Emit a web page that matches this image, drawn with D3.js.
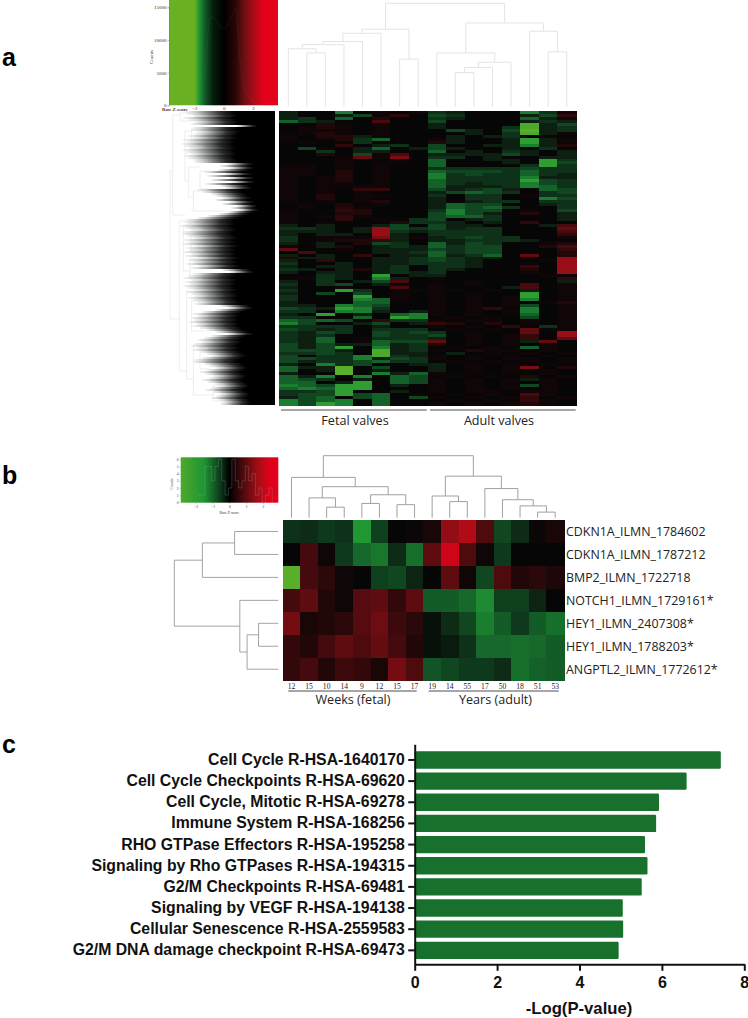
<!DOCTYPE html>
<html>
<head>
<meta charset="utf-8">
<title>Valve heatmaps</title>
<style>
  html, body { margin: 0; padding: 0; background: #fff; }
  svg { display: block; }
</style>
</head>
<body>
<script src="https://cdn.jsdelivr.net/npm/d3@7"></script>
<script>
var width = 748, height = 1018;

// panel a: heatmap levels, one string per gene row. '.' = 0, digits = red, letters = green
var heatA = [
"a..e.1.1ba...eb1","a..ac13.cb...ac3","ab.d.2..ba...da1","dba..4..c....aba",
"..21.1..a....gac",".121.1..a...bgab",".111.1...ca.chab",".121.1....a.bga1",
"1.22a1...a.ab.1.","1.12bd..1a..afa1",".1.1b1..2a..afa1","...3.ab.c..aaea2",
".c1.ad.aca..a.b.","..b.aa..d.a.ba.a","..2.c14.aaaaca.a","...1516.bb.a..aa",
"...1..1.d..aa.fb","...1.11.d...a.fc","11.1.1..d....bfb","11.1.1..bbbbbcbb",
"11.2.1..dcccbdbb","11.2.1..ebcbbdba","1.12.1..ebbbbeaa","1.12.1..dbbbbfcb",
"1.11.1..dbabbecb","1.1111..daaabedb","1.1.33..cabca.dc","1.1.1...acdcb.bc",
"1.2.11..b.bb.1bb","1.2.1...a.bb..ec","1.1.12..a.abb.bb",".1.2.1..adcc..ab",
".1.21...adcdb..b","1..32...becc.1.c","1..22...ceca.2.a","1.131...cddb...a",
"1..3.1.bc.ab...a","1.1...2bba.a.3..","a.a..ac.caa...a4","bba.a7cbcabb...5",
"aaa.a7babbbb...4","a.aa.7a.bbbb...3","b.1116a1abcbb..1","b.1223a.aabbba..",
"a.a.2cb.dacb..12","1.a2.abadbcc..24","5..1.aaacbcc...3",".4...aabdbcc...2",
"a.a.3.aadabd.5.2","2aa..aabcbaa.1.7","a.3..aabcba...17","b..a.aabbba..1.7",
"a.aa.ab.bba..3.7","ba.a2ab.ba...2.7","a.aa.abab....1.7","..ba.f.aa.....1.",
"11ba.ea.1......3","a.b.ac4...1....a","b.bc.a1.1.1..4.1","a..1..4.1...a4.1",
"b..fb.1111.1.a.1","a.c.c.1.1.1..f.1","b...f.1.1.1.1f.1","b...ed1.1.1.1e.1",
"a...dd..1.1.1.12","aa.edc..1.1.1c.1","cbafeb..1.13.e.1","bb.eea.a1.1.1e.1",
"a.f.a.de1.1.1d.1","bb..d.fe.1.1.c.1","dcdc.3bb1.11.1.1","ec..ac.a32.2.1.1",
"bbbb.a..1.1.3.b1","cbab.bbb.1.1.511","bacb.cbcb.1..5.7","bab..cbbc.1.13.7",
"bad.1bbba.1.13.5","bad.1dcc5.1.1a5.","cacaadab2.1.1.1.","cacf.eab.1.1.d1.",
"ccca.gab1.211.1.","bbcb.gaa.a.1.1.1","c.bbegba1.1.1.1.","ccbbeacb1.1.11.1",
"cabbcdbb.1.1.1.1","a.ebc..aa.1.1.1.","daah.c..a.1.16.2","d.ah.a..a.1.1.1.",
"a..h.ead1.1.1.1.","dae.e.dc.1.1.2.1","dcb.a.dc1.1.1a1.","dd.af.dc1.1.1.1.",
"edcff.a.1.1.1c1.","dedff...1.1.1.1.","bbcf..a.1.11.11.","bccfcd.1.1.1.41.",
"acd.cd.c1.1.13.1","ecde.d...1.1.31.","ecfe.d..1.1.121."
];
var greenLevels = "abcdefghi", greenZ = [-0.25, -0.5, -0.8, -1.2, -1.6, -2.2, -2.6, -2.8, -2.8];
var redLevels = "123456789", redZ = [0.12, 0.3, 0.5, 0.75, 1.05, 1.4, 1.8, 2.2, 2.6];

// panel a: how far the gene tree reaches left, per band of leaves
var leafDepthA = [98,96,90,100,94,88,92,42,90,92,85,88,95,90,100,96,102,98,94,100,97,92,99,95,90,88,
  52,60,50,62,78,55,74,50,70,48,76,60,55,85,80,70,65,58,66,50,58,42,48,40,52,62,74,85,98,
  100,96,104,98,92,100,102,96,90,99,95,101,88,97,94,100,92,98,86,95,90,97,84,92,58,50,
  90,95,100,92,98,94,100,96,90,97,92,88,95,90,85,88,60,52,66,80,90,85,92,88,94,86,90,82,75,65,52,70,
  78,85,80,88,92,85,90,82,75,70,80,88,90,78,72,66,74,82,76,68,72,80,74,66,62,70,76,68,60,64,70,62,58,60];

// gene tree branches: [depth, leaf band top, leaf band bottom, depth at top, depth at bottom]
var geneBranches = [
  [114.5,30,104,111.6,104.4],[111.6,2,52,103.6,98.2],[104.4,55,130,100,96.4],[103.6,1,5,92.7,89.1],
  [98.2,10,35,90.9,94.5],[90.9,9,18,80,78.2],[94.5,28,43,81.8,89.1],[81.8,30,39,70.9,72.7],
  [89.1,40,50,74.5,52.7],[100,57,80,90.9,92.7],[96.4,90,134,90.9,89.1],[90.9,59,70,80,78.2],
  [92.7,74,84,81.8,80],[90.9,95,110,81.8,76.4],[89.1,117,142,81.8,67.3],[81.8,119,129,72.7,70.9],
  [67.3,137,145,54.5,52.7]
];

// dendrograms as nested [height, left, right], leaves are column or row numbers
var treeTopA = [100,
  [75, [71, [63, [60, [56, 0, [52, 1, 2]], 3], 4], 5], [46, 6, 7]],
  [81, [52, 8, [43, [38, [33, 9, 10], 11], 12]], [73, 13, [53, 14, 15]]]];
var treeTopB = [100,
  [65, 0, [50, [32, 1, [17, 2, 3]], [37, [23, 4, 5], [21, 6, 7]]]],
  [67, [35, 8, [26, 9, 10]], [47, 11, [29, 12, [19, 13, [9, 14, 15]]]]]];
var treeLeftB = [100, [73, [42, 0, 1], 2], [37, 3, [30, [19, 4, 5], 6]]];

// panel a colour key
var keyStopsA = [[-3.74,"#6ab023"],[-1.98,"#6ab023"],[-1.64,"#1c9333"],[-1.3,"#145a28"],[-0.7,"#051a0b"],[0,"#000000"],
  [0.8,"#2a0608"],[1.4,"#6b0f13"],[2,"#a50c18"],[2.7,"#e2001a"],[3.71,"#e2001a"]];
var keyTraceZA = [-1.3,-1.07,-0.95,-0.61,-0.27,0.07,0.41,0.82,0.91,1.09,1.43,2,2.68];
var keyTraceCA = [3400,11000,13500,13300,12000,11700,13000,14800,14000,7400,2300,500,0];

// panel b colour key
var keyStopsB = [[-2.89,"#4fa82a"],[-1.5,"#1f9433"],[-0.6,"#0f3f1c"],[0,"#000000"],[0.8,"#4a0a0d"],[1.7,"#a30d16"],[2.4,"#e2001a"],[2.91,"#e2001a"]];
var keyHistStartB = -1.85, keyHistStepB = 0.2;
var keyHistB = [1,1,5,5,3,5,6,3,1,2,6,3,2,3,5,3,4,1,2,0,1,2,0];

// panel b heatmap
var genesB = ["CDKN1A_ILMN_1784602","CDKN1A_ILMN_1787212","BMP2_ILMN_1722718","NOTCH1_ILMN_1729161*",
  "HEY1_ILMN_2407308*","HEY1_ILMN_1788203*","ANGPTL2_ILMN_1772612*"];
var agesB = ["12","15","10","14","9","12","15","17","19","14","55","17","50","18","51","53"];
var heatB = [
  [-0.5,-0.4,-0.6,-0.5,-2.0,-0.7,0,0.05,0.2,1.7,2.1,0.8,-0.8,-0.4,0.05,0.2],
  [0,0.7,0.1,-0.6,-1.3,-1.5,-0.4,-1.4,1.0,2.4,0.8,0.1,-0.6,0,0,0],
  [-2.8,0.7,0.4,0.1,0,-0.7,-0.8,-0.3,0,1.0,0.1,-0.8,0.8,0.3,0.4,0.25],
  [0.7,1.0,0.3,0.1,0.9,1.0,0.5,1.0,-1.1,-1.1,-1.3,-1.8,-0.7,-0.7,-0.3,0],
  [1.3,0.2,0.3,0.4,0.9,1.2,0.6,0.4,-0.1,-0.4,-0.8,-1.6,-1.1,-0.6,-1.1,-1.4],
  [0.5,0.3,0.7,1.0,0.8,1.1,0.7,0.3,-0.1,-0.2,-0.5,-1.3,-1.3,-1.4,-1.3,-1.1],
  [0.5,0.7,0.3,0.6,0.5,0.2,1.3,0.8,-1.0,-0.8,-0.6,-0.6,-0.4,-1.4,-1.2,-1.1]
];

// panel c
var pathways = ["Cell Cycle R-HSA-1640170","Cell Cycle Checkpoints R-HSA-69620","Cell Cycle, Mitotic R-HSA-69278",
  "Immune System R-HSA-168256","RHO GTPase Effectors R-HSA-195258","Signaling by Rho GTPases R-HSA-194315",
  "G2/M Checkpoints R-HSA-69481","Signaling by VEGF R-HSA-194138","Cellular Senescence R-HSA-2559583",
  "G2/M DNA damage checkpoint R-HSA-69473"];
var logP = [7.43,6.60,5.93,5.86,5.59,5.65,5.51,5.05,5.06,4.95];

var sans = "'Liberation Sans', Arial, sans-serif";
var humanist = "'Open Sans', sans-serif";
var serif = "'Liberation Serif', 'Times New Roman', serif";

var svg = d3.select("body").append("svg")
  .attr("width", width).attr("height", height)
  .attr("viewBox", "0 0 " + width + " " + height);
var defs = svg.append("defs");

var heatColor = d3.scaleLinear()
  .domain([-2.8, -2, -1, -0.3, 0, 0.3, 1, 2, 2.6])
  .range(["#5aaf2a", "#219733", "#115527", "#0d2413", "#060606", "#220709", "#5e0c10", "#a80d17", "#e2001a"])
  .clamp(true);

function levelOf(ch) {
  var g = greenLevels.indexOf(ch), r = redLevels.indexOf(ch);
  if (g >= 0) return greenZ[g];
  if (r >= 0) return redZ[r];
  return 0;
}

// walks a nested [h, l, r] tree, draws the brackets, returns the node position
function drawTree(g, node, posOf, heightOf, horizontal) {
  if (typeof node === "number") return { p: posOf(node), h: 0 };
  var a = drawTree(g, node[1], posOf, heightOf, horizontal);
  var b = drawTree(g, node[2], posOf, heightOf, horizontal);
  var hh = heightOf(node[0]), ha = heightOf(a.h), hb = heightOf(b.h);
  var path = d3.path();
  if (horizontal) {
    path.moveTo(ha, a.p); path.lineTo(hh, a.p); path.lineTo(hh, b.p); path.lineTo(hb, b.p);
  } else {
    path.moveTo(a.p, ha); path.lineTo(a.p, hh); path.lineTo(b.p, hh); path.lineTo(b.p, hb);
  }
  g.append("path").attr("d", path.toString());
  return { p: (a.p + b.p) / 2, h: node[0] };
}

function colorKey(id, stops, x, y0, y1) {
  var grad = defs.append("linearGradient").attr("id", id)
    .attr("gradientUnits", "userSpaceOnUse")
    .attr("x1", x.range()[0]).attr("x2", x.range()[1]).attr("y1", 0).attr("y2", 0);
  grad.selectAll("stop").data(stops).enter().append("stop")
    .attr("offset", function(d) { return (x(d[0]) - x.range()[0]) / (x.range()[1] - x.range()[0]); })
    .attr("stop-color", function(d) { return d[1]; });
  svg.append("rect")
    .attr("x", x.range()[0]).attr("y", y0)
    .attr("width", x.range()[1] - x.range()[0]).attr("height", y1 - y0)
    .attr("fill", "url(#" + id + ")");
}

function tinyAxis(g) {
  g.selectAll("text").attr("font-family", serif).attr("fill", "#333");
  g.selectAll("line").attr("stroke", "#777").attr("stroke-width", 0.4);
  g.select(".domain").attr("stroke", "#777").attr("stroke-width", 0.4);
}

/* ---------- panel a ---------- */
var keyXA = d3.scaleLinear().domain([-3.74, 3.71]).range([169, 278]);
var keyYA = d3.scaleLinear().domain([0, 15000]).range([105.3, 7.3]);
colorKey("keyA", keyStopsA, keyXA, 0, 105.3);
svg.append("path")
  .attr("d", d3.line().x(function(d, i) { return keyXA(keyTraceZA[i]); }).y(function(d) { return keyYA(d); })(keyTraceCA))
  .attr("fill", "none").attr("stroke", "#8f9a8f").attr("stroke-opacity", 0.14).attr("stroke-width", 0.6);
svg.append("g").attr("transform", "translate(169,0)")
  .call(d3.axisLeft(keyYA).tickValues([0, 5000, 10000, 15000]).tickSize(1.5).tickPadding(1).tickFormat(d3.format("d")))
  .attr("font-size", 5).call(tinyAxis);
svg.append("g").attr("transform", "translate(0,105.3)")
  .call(d3.axisBottom(keyXA).tickValues([-2, 0, 2]).tickSize(0).tickPadding(1.5).tickFormat(d3.format("d")))
  .attr("font-size", 5).call(tinyAxis)
  .call(function(g) { g.select(".domain").remove(); });
svg.append("text").attr("x", 162).attr("y", 110.5)
  .attr("font-family", serif).attr("font-size", 4.8).attr("font-weight", "bold").attr("fill", "#333").text("Row Z-score");
svg.append("text").attr("transform", "translate(153,57) rotate(-90)").attr("text-anchor", "middle")
  .attr("font-family", serif).attr("font-size", 5).attr("fill", "#333").text("Counts");

var colsA = d3.range(16);
var xA = d3.scaleBand().domain(colsA).range([279, 576]);
var yA = d3.scaleBand().domain(d3.range(heatA.length)).range([111, 405]);

var topA = svg.append("g").attr("fill", "none").attr("stroke", "#e2e5e5").attr("stroke-width", 1);
drawTree(topA, treeTopA, function(c) { return xA(c) + xA.bandwidth() / 2; },
  d3.scaleLinear().domain([0, 100]).range([106.7, 3.3]), false);

svg.append("g").attr("shape-rendering", "crispEdges")
  .selectAll("g").data(heatA).enter().append("g")
  .each(function(row, r) {
    d3.select(this).selectAll("rect").data(row.split("")).enter().append("rect")
      .attr("x", function(d, c) { return xA(c); })
      .attr("y", yA(r))
      .attr("width", xA.bandwidth() + 0.5)
      .attr("height", yA.bandwidth() + 0.5)
      .attr("fill", function(d) { return heatColor(levelOf(d)); });
  });

// gene tree, drawn as leaf streaks that fade into black
var depthX = d3.scaleLinear().domain([0, 114]).range([275, 170.5]);
var leafY = d3.scaleBand().domain(d3.range(leafDepthA.length)).range([111, 405]);
var fade = defs.append("linearGradient").attr("id", "leafFade");
[[0, "#f6f6f6"], [0.1, "#d2d4d4"], [0.25, "#7c7e7e"], [0.4, "#2a2a2a"], [0.55, "#000000"], [1, "#000000"]].forEach(function(s) {
  fade.append("stop").attr("offset", s[0]).attr("stop-color", s[1]);
});
svg.append("g").selectAll("rect").data(leafDepthA).enter().append("rect")
  .attr("x", function(d) { return depthX(d); })
  .attr("y", function(d, i) { return leafY(i); })
  .attr("width", function(d) { return 275 - depthX(d); })
  .attr("height", leafY.bandwidth())
  .attr("shape-rendering", "crispEdges")
  .attr("fill", "url(#leafFade)");
var geneTree = svg.append("g").attr("fill", "none").attr("stroke", "#d8dbdb").attr("stroke-width", 0.5);
geneBranches.forEach(function(b) {
  var p = d3.path();
  p.moveTo(depthX(b[3]), leafY(b[1]));
  p.lineTo(depthX(b[0]), leafY(b[1]));
  p.lineTo(depthX(b[0]), leafY(b[2]));
  p.lineTo(depthX(b[4]), leafY(b[2]));
  geneTree.append("path").attr("d", p.toString());
});

var groupsA = [["Fetal valves", 281, 426.7, 355], ["Adult valves", 430, 575.7, 499]];
groupsA.forEach(function(g) {
  svg.append("line").attr("x1", g[1]).attr("x2", g[2]).attr("y1", 410).attr("y2", 410)
    .attr("stroke", "#222").attr("stroke-width", 0.8);
  svg.append("text").attr("x", g[3]).attr("y", 424.5).attr("text-anchor", "middle")
    .attr("font-family", humanist).attr("font-size", 12.6).attr("fill", "#222").text(g[0]);
});

/* ---------- panel b ---------- */
var keyXB = d3.scaleLinear().domain([-2.89, 2.91]).range([180.7, 278.3]);
var keyYB = d3.scaleLinear().domain([0, 6]).range([502.3, 459.3]);
colorKey("keyB", keyStopsB, keyXB, 457.3, 502.7);
svg.append("path")
  .attr("d", d3.line().curve(d3.curveStepAfter)
    .x(function(d, i) { return keyXB(keyHistStartB + i * keyHistStepB); })
    .y(function(d) { return keyYB(d); })(keyHistB))
  .attr("fill", "none").attr("stroke", "#8fcfcf").attr("stroke-opacity", 0.3).attr("stroke-width", 0.7);
svg.append("g").attr("transform", "translate(180.7,0)")
  .call(d3.axisLeft(keyYB).ticks(7).tickSize(1.2).tickPadding(1))
  .attr("font-size", 3.6).call(tinyAxis)
  .call(function(g) { g.select(".domain").remove(); });
svg.append("g").attr("transform", "translate(0,502.7)")
  .call(d3.axisBottom(keyXB).tickValues([-2, -1, 0, 1, 2]).tickSize(1.2).tickPadding(1.5).tickFormat(d3.format("d")))
  .attr("font-size", 3.8).call(tinyAxis)
  .call(function(g) { g.select(".domain").remove(); });
svg.append("text").attr("x", 229.3).attr("y", 514).attr("text-anchor", "middle")
  .attr("font-family", serif).attr("font-size", 3.8).attr("fill", "#333").text("Row Z-score");
svg.append("text").attr("transform", "translate(173,484) rotate(-90)").attr("text-anchor", "middle")
  .attr("font-family", serif).attr("font-size", 3.8).attr("fill", "#333").text("Counts");

var xB = d3.scaleBand().domain(d3.range(agesB.length)).range([282.7, 564]);
var yB = d3.scaleBand().domain(genesB).range([520, 680.7]);

var topB = svg.append("g").attr("fill", "none").attr("stroke", "#a0a0a0").attr("stroke-width", 1);
drawTree(topB, treeTopB, function(c) { return xB(c) + xB.bandwidth() / 2; },
  d3.scaleLinear().domain([0, 100]).range([517.7, 455.7]), false);
var leftB = svg.append("g").attr("fill", "none").attr("stroke", "#9a9a9a").attr("stroke-width", 0.9);
drawTree(leftB, treeLeftB, function(r) { return yB(genesB[r]) + yB.bandwidth() / 2; },
  d3.scaleLinear().domain([0, 100]).range([278.3, 174.3]), true);

svg.append("g").attr("shape-rendering", "crispEdges")
  .selectAll("g").data(heatB).enter().append("g")
  .each(function(row, r) {
    d3.select(this).selectAll("rect").data(row).enter().append("rect")
      .attr("x", function(d, c) { return xB(c); })
      .attr("y", yB(genesB[r]))
      .attr("width", xB.bandwidth() + 0.5)
      .attr("height", yB.bandwidth() + 0.5)
      .attr("fill", function(d) { return heatColor(d); });
  });

svg.append("g").selectAll("text").data(genesB).enter().append("text")
  .attr("x", 566).attr("y", function(d) { return yB(d) + yB.bandwidth() / 2 + 4.4; })
  .attr("font-family", humanist).attr("font-size", 12.4).attr("fill", "#222")
  .text(function(d) { return d; });
svg.append("g").selectAll("text").data(agesB).enter().append("text")
  .attr("x", function(d, i) { return xB(i) + xB.bandwidth() / 2; })
  .attr("y", 689.4).attr("text-anchor", "middle")
  .attr("font-family", serif).attr("font-size", 7.6).attr("fill", "#222")
  .text(function(d) { return d; });

var groupsB = [["Weeks (fetal)", 288.3, 416.7, 353], ["Years (adult)", 428.7, 558.7, 495.5]];
groupsB.forEach(function(g) {
  svg.append("line").attr("x1", g[1]).attr("x2", g[2]).attr("y1", 691).attr("y2", 691)
    .attr("stroke", "#222").attr("stroke-width", 0.8);
  svg.append("text").attr("x", g[3]).attr("y", 704).attr("text-anchor", "middle")
    .attr("font-family", humanist).attr("font-size", 12.6).attr("fill", "#222").text(g[0]);
});

/* ---------- panel c ---------- */
var xC = d3.scaleLinear().domain([0, 8]).range([414.7, 744.3]);
var yC = d3.scaleBand().domain(pathways).range([744.3, 964.3])
  .paddingInner(0.18).paddingOuter(0.29).align(0.57);

svg.append("g").selectAll("rect").data(logP).enter().append("rect")
  .attr("x", xC(0))
  .attr("y", function(d, i) { return yC(pathways[i]); })
  .attr("width", function(d) { return xC(d) - xC(0); })
  .attr("height", yC.bandwidth())
  .attr("rx", 1.2)
  .attr("fill", "#17702c");

var axisBottomC = svg.append("g").attr("transform", "translate(0,964.3)")
  .call(d3.axisBottom(xC).tickValues([0, 2, 4, 6, 8]).tickSize(6.5).tickPadding(6).tickSizeOuter(0));
axisBottomC.selectAll("text").attr("font-family", sans).attr("font-weight", "bold").attr("font-size", 16).attr("fill", "#111");
axisBottomC.selectAll("line").attr("stroke", "#111").attr("stroke-width", 2);
axisBottomC.select(".domain").attr("stroke", "#111").attr("stroke-width", 2);

var axisLeftC = svg.append("g").attr("transform", "translate(414.7,0)")
  .call(d3.axisLeft(yC).tickSize(6.5).tickPadding(3.4).tickSizeOuter(0));
axisLeftC.selectAll("text").attr("font-family", sans).attr("font-weight", "bold").attr("font-size", 15.8).attr("fill", "#111");
axisLeftC.selectAll("line").attr("stroke", "#111").attr("stroke-width", 2);
axisLeftC.select(".domain").attr("stroke", "#111").attr("stroke-width", 2);

svg.append("text").attr("x", 579).attr("y", 1014).attr("text-anchor", "middle")
  .attr("font-family", sans).attr("font-weight", "bold").attr("font-size", 16.7).attr("fill", "#111")
  .text("-Log(P-value)");

// panel letters
[["a", 66], ["b", 484], ["c", 753]].forEach(function(l) {
  svg.append("text").attr("x", 2).attr("y", l[1])
    .attr("font-family", sans).attr("font-weight", "bold").attr("font-size", 25).attr("fill", "#000").text(l[0]);
});
</script>
</body>
</html>
